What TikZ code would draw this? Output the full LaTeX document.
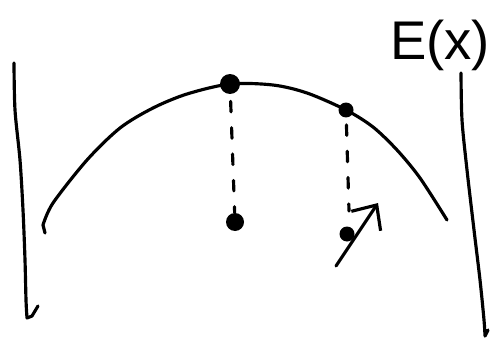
\documentclass[tikz,border=0pt]{standalone}
\usepackage{fontspec}
\setmainfont{Liberation Sans}
\usepackage{tikz}
\usetikzlibrary{arrows.meta,positioning}

\begin{document}
\begin{tikzpicture}[
  x=0.02cm, y=-0.02cm,
  every node/.style={font=\fontsize{31}{31}\selectfont},
  stroke/.style={line width=1.8pt, line cap=round, line join=round},
  bigdot/.style={circle, fill=black, inner sep=0pt, minimum size=0.4cm},
  dot/.style={circle, fill=black, inner sep=0pt, minimum size=0.3cm},
  dashline/.style={stroke, dash pattern=on 6pt off 9pt, dash phase=-4pt},
  arr/.style={stroke, -{Straight Barb[length=11pt, width=20pt, line width=1.8pt]}}
]
\useasboundingbox (0,0) rectangle (492,344);

% walls
\draw[stroke] plot[smooth] coordinates {(14,63) (15,110) (20,160) (23,210) (25,260) (26,300) (27,318)}
  -- (32,316) -- (38,306);
\draw[stroke] plot[smooth] coordinates {(461,73) (462,120) (467,170) (474,230) (480,280) (484,320) (485,336)}
  -- (488,330);

% energy curve
\draw[stroke] (45,233) -- plot[smooth] coordinates {(43,225) (53,203) (87,160) (120,128) (153,108) (187,94)
  (230,84) (273,85) (307,93) (346,110) (373,127) (397,150) (420,178) (447,220)};

\node[anchor=center] (E) at (440,45) {E(x)};

% points on the curve and below it
\node[bigdot] (top1) at (230,84) {};
\node[dot] (top2) at (346,110) {};
\node[bigdot, minimum size=0.36cm] (low1) at (235,222) {};
\node[dot] (low2) at (347,234) {};
\coordinate (tail) at (336,266);
\coordinate (head) at (378,203);
\coordinate (bend) at (349,211);

\draw[dashline] (top1) -- (low1);
\draw[dashline] (top2) -- (bend);
\draw[arr] (tail) -- (head);
\end{tikzpicture}
\end{document}
